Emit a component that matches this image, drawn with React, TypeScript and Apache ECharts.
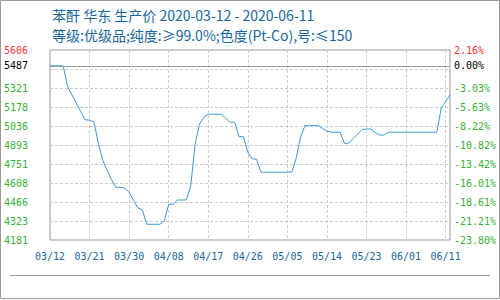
import React, { useEffect, useRef } from "react";
import * as echarts from "echarts";

const titleLine1 = "苯酐 华东 生产价 2020-03-12 - 2020-06-11";
const titleLine2 = "等级:优级品;纯度:≥99.0%;色度(Pt-Co),号:≤150";

// day offset from 2020-03-12
const days = [
  0, 1, 2, 3, 4, 5, 6, 7, 8, 9, 10, 11, 12, 13, 14, 15, 16, 17, 18, 19, 20, 21, 22, 23, 24, 25, 26, 27, 28, 29,
  30, 31, 32, 33, 34, 35, 36, 37, 38, 39, 40, 41, 42, 43, 44, 45, 46, 47, 48, 49, 50, 51, 52, 53, 54, 55, 56, 57,
  58, 59, 60, 61, 62, 63, 64, 65, 66, 67, 68, 69, 70, 71, 72, 73, 74, 75, 76, 77, 78, 79, 80, 81, 82, 83, 84, 85,
  86, 87, 88, 89, 90, 91,
];
const prices = [
  5487, 5487, 5487, 5487, 5331, 5268, 5206, 5143, 5081, 5081, 5065, 4906, 4779, 4704, 4633, 4576, 4576, 4570,
  4538, 4480, 4422, 4407, 4299, 4299, 4299, 4299, 4323, 4449, 4449, 4481, 4481, 4481, 4581, 4893, 5049, 5103,
  5124, 5124, 5124, 5124, 5094, 5064, 5064, 4956, 4956, 4838, 4790, 4786, 4689, 4689, 4689, 4689, 4689, 4689,
  4689, 4691, 4793, 4954, 5038, 5038, 5038, 5038, 5017, 4998, 4989, 4989, 4989, 4904, 4909, 4943, 4976, 5010,
  5013, 5013, 4987, 4968, 4968, 4989, 4989, 4989, 4989, 4989, 4989, 4989, 4989, 4989, 4989, 4989, 4989, 5170,
  5218, 5268,
];

const basePrice = 5487;
const baseLeftLabel = "5487";
const baseRightLabel = "0.00%";
const yMin = 4181;
const yMax = 5605.6;
const xMax = 91;
const xStep = 9;

const xTickLabels = ["03/12", "03/21", "03/30", "04/08", "04/17", "04/26", "05/05", "05/14", "05/23", "06/01", "06/11"];
const leftTickLabels = ["4181", "4323", "4466", "4608", "4751", "4893", "5036", "5178", "5321", "", "5606"];
const rightTickLabels = [
  "-23.80%", "-21.21%", "-18.61%", "-16.01%", "-13.42%", "-10.82%", "-8.22%", "-5.63%", "-3.03%", "", "2.16%",
];

export default function App() {
  const ref = useRef<HTMLDivElement>(null);
  useEffect(() => {
    document.body.style.margin = "0";
    if (!ref.current) return;
    const chart = echarts.init(ref.current, undefined, { renderer: "svg" });
    const range = yMax - yMin;
    const yStep = range / 10;
    const tickIdx = (v: number) => Math.round(v / yStep);
    const mono = "DejaVu Sans Mono";
    const green = "#33b333";
    const red = "#ff3333";
    const blue = "#17679c";
    chart.setOption({
      animation: false,
      graphic: [
        {
          type: "rect",
          shape: { x: 0.5, y: 0.5, width: 499, height: 298 },
          style: { fill: "none", stroke: "#999", lineWidth: 1 },
          silent: true,
        },
        {
          type: "line",
          shape: { x1: 10, y1: 275.5, x2: 490, y2: 275.5 },
          style: { stroke: "#a0a0a0", lineWidth: 1 },
          silent: true,
        },
        {
          type: "text",
          x: 52,
          y: 15,
          style: { text: titleLine1, fill: blue, font: '14px "Noto Sans CJK SC"', verticalAlign: "middle" },
        },
        {
          type: "text",
          x: 52,
          y: 35,
          style: { text: titleLine2, fill: blue, font: '14px "Noto Sans CJK SC"', verticalAlign: "middle" },
        },
      ],
      grid: { left: 50, right: 50, top: 50, bottom: 60, show: true, borderColor: "#999", borderWidth: 1 },
      xAxis: {
        type: "value",
        min: 0,
        max: xMax,
        interval: xStep,
        axisLine: { show: false },
        axisTick: { show: false },
        splitLine: { show: true, lineStyle: { color: "#ccc", type: [3, 2] } },
        axisLabel: {
          margin: 11,
          color: blue,
          fontFamily: mono,
          fontSize: 10,
          showMaxLabel: false,
          formatter: (v: number) => {
            const i = Math.round(v / xStep);
            return v % xStep === 0 && xTickLabels[i] ? xTickLabels[i] : "";
          },
        },
      },
      yAxis: [
        {
          type: "value",
          min: 0,
          max: range,
          interval: yStep,
          axisLine: { show: false },
          axisTick: { show: false },
          splitLine: { show: true, lineStyle: { color: "#ccc", type: [3, 2] } },
          axisLabel: {
            margin: 22,
            fontFamily: mono,
            fontSize: 10,
            formatter: (v: number) => leftTickLabels[tickIdx(v)] ?? "",
            color: (v: number) => (tickIdx(v) === 10 ? red : green),
          },
        },
        {
          type: "value",
          position: "right",
          min: 0,
          max: range,
          interval: yStep,
          axisLine: { show: false },
          axisTick: { show: false },
          splitLine: { show: false },
          axisLabel: {
            margin: 4,
            fontFamily: mono,
            fontSize: 10,
            formatter: (v: number) => rightTickLabels[tickIdx(v)] ?? "",
            color: (v: number) => (tickIdx(v) === 10 ? red : green),
          },
        },
      ],
      series: [
        {
          type: "line",
          data: [],
          z: 1,
          silent: true,
          markLine: {
            silent: true,
            symbol: "none",
            lineStyle: { color: "#999", type: "solid", width: 1 },
            data: [
              {
                yAxis: basePrice - yMin,
                label: {
                  position: "start",
                  distance: 22,
                  formatter: baseLeftLabel,
                  color: "#000",
                  fontFamily: mono,
                  fontSize: 10,
                },
              },
              {
                yAxis: basePrice - yMin,
                label: {
                  position: "end",
                  distance: 4,
                  formatter: baseRightLabel,
                  color: "#000",
                  fontFamily: mono,
                  fontSize: 10,
                },
              },
            ],
          },
        },
        {
          type: "line",
          z: 3,
          symbol: "none",
          lineStyle: { color: "#3a9ad9", width: 1 },
          data: days.map((d, i) => [d, prices[i] - yMin]),
        },
      ],
    });
    return () => chart.dispose();
  }, []);
  return <div ref={ref} style={{ width: 500, height: 300 }} />;
}
